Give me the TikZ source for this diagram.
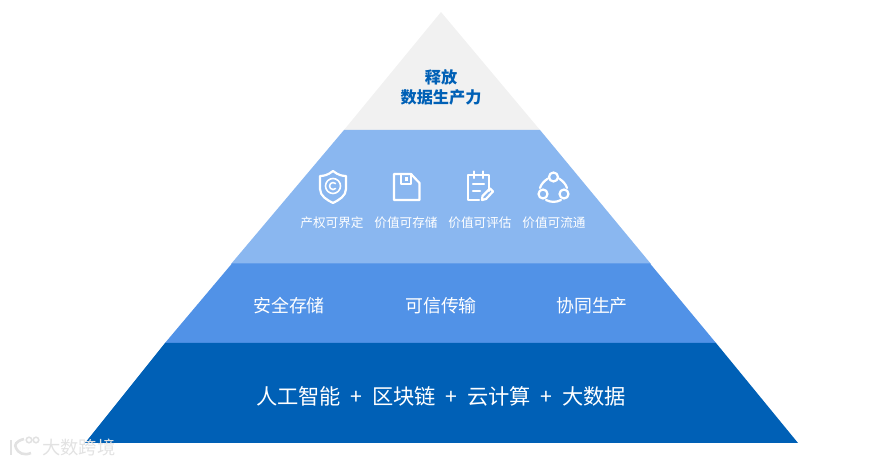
\documentclass[tikz,border=0pt]{standalone}
\usepackage{fontspec}
\setmainfont{Noto Sans CJK SC}
\definecolor{topgrey}{HTML}{F1F1F1}
\definecolor{bandlight}{HTML}{8AB7F0}
\definecolor{bandmid}{HTML}{5192E7}
\definecolor{banddark}{HTML}{0060B6}
\definecolor{markgrey}{HTML}{E2E2E2}
\tikzset{
    smalllabel/.style={text=white,font=\fontsize{7.2}{8}\selectfont,inner sep=0pt},
    midlabel/.style={text=white,font=\fontsize{10.2}{12}\selectfont,inner sep=0pt},
    toplabel/.style={text=banddark,font=\fontsize{9.2}{11.3}\selectfont\bfseries,align=center,inner sep=0pt},
    baselabel/.style={text=white,font=\fontsize{12.1}{14}\selectfont,inner sep=0pt},
    iconline/.style={draw=white,line width=1.25pt,line join=round,line cap=round},
}
\begin{document}
\begin{tikzpicture}[x=0.02cm,y=-0.02cm]
    \useasboundingbox (0,0) rectangle (882,465);

    % Pyramid bands
    \fill[topgrey] (441,12) -- (540,130) -- (344,130) -- cycle;
    \fill[bandlight] (344,130) -- (540,130) -- (651,264) -- (231,264) -- cycle;
    \fill[bandmid] (232,263.5) -- (650,263.5) -- (716,343) -- (165,343) -- cycle;
    \fill[banddark] (165,343) -- (716,343) -- (798,443) -- (85,443) -- cycle;

    % Top band
    \node[toplabel] (release) at (441,87.5) {释放\\数据生产力};

    % Icon row
    \node[smalllabel] (rightlabel) at (332,223) {产权可界定};
    \node[smalllabel] (storelabel) at (406,223) {价值可存储};
    \node[smalllabel] (assesslabel) at (480,223) {价值可评估};
    \node[smalllabel] (flowlabel) at (554,223) {价值可流通};

    % Shield
    \draw[iconline] (333,171) .. controls (338,175) and (342,176) .. (346,176) -- (346,189)
        .. controls (346,196) and (339,200) .. (333,203)
        .. controls (327,200) and (320,196) .. (320,189) -- (320,176)
        .. controls (324,176) and (328,175) .. (333,171) -- cycle;
    \draw[iconline,line width=0.9pt] (333,186) circle (7.5);
    \draw[iconline,line width=0.9pt] (335.5,188.5) arc (45:315:3.5);

    % Floppy
    \draw[iconline] (394,174) -- (411,174) -- (419.5,183) -- (419.5,200) -- (394,200) -- cycle;
    \draw[iconline] (401,174) -- (401,184) -- (411,184) -- (411,174);
    \fill[white] (405,177) rectangle (407.5,181);

    % Notepad
    \draw[iconline] (489,191) -- (489,175) -- (468,175) -- (468,200) -- (479,200);
    \draw[iconline] (474,171.5) -- (474,178);
    \draw[iconline] (483,171.5) -- (483,178);
    \draw[iconline] (473,184) -- (484,184);
    \draw[iconline] (473,191) -- (480,191);
    \draw[iconline] (482,200) -- (482.5,196) -- (490,188.5) -- (493,191.5) -- (486,199) -- cycle;

    % Circles
    \draw[iconline] (553.5,177) circle (4.5);
    \draw[iconline] (543,194) circle (4.5);
    \draw[iconline] (564,194) circle (4.5);
    \draw[iconline] (548,178.5) .. controls (544,181) and (541,184.5) .. (540,188);
    \draw[iconline] (559,178.5) .. controls (563,181) and (566,184.5) .. (567,188);
    \draw[iconline] (546,200) .. controls (551,202.5) and (556,202.5) .. (561,200);

    % Middle band
    \node[midlabel] (storage) at (289,306) {安全存储};
    \node[midlabel] (transfer) at (441,306) {可信传输};
    \node[midlabel] (produce) at (592,306) {协同生产};

    % Base band
    \node[baselabel] (base) at (441,396) {人工智能\hspace{5.5pt}+\hspace{5.5pt}区块链\hspace{5.5pt}+\hspace{5.5pt}云计算\hspace{5.5pt}+\hspace{5.5pt}大数据};

    % Watermark
    \node[text=markgrey,inner sep=0pt,font=\fontsize{10.4}{12}\selectfont] (mark) at (79,448) {大数跨境};
    \draw[markgrey,line width=1.5pt] (11,440) -- (11,455);
    \draw[markgrey,line width=1.5pt] (24,439) .. controls (16,441) and (14,445) .. (16,448) .. controls (18,453) and (24,456) .. (31,453);
    \draw[markgrey,line width=0.9pt] (29,440) circle (2.8);
    \draw[markgrey,line width=0.9pt] (36,440) circle (2.8);
\end{tikzpicture}
\end{document}
